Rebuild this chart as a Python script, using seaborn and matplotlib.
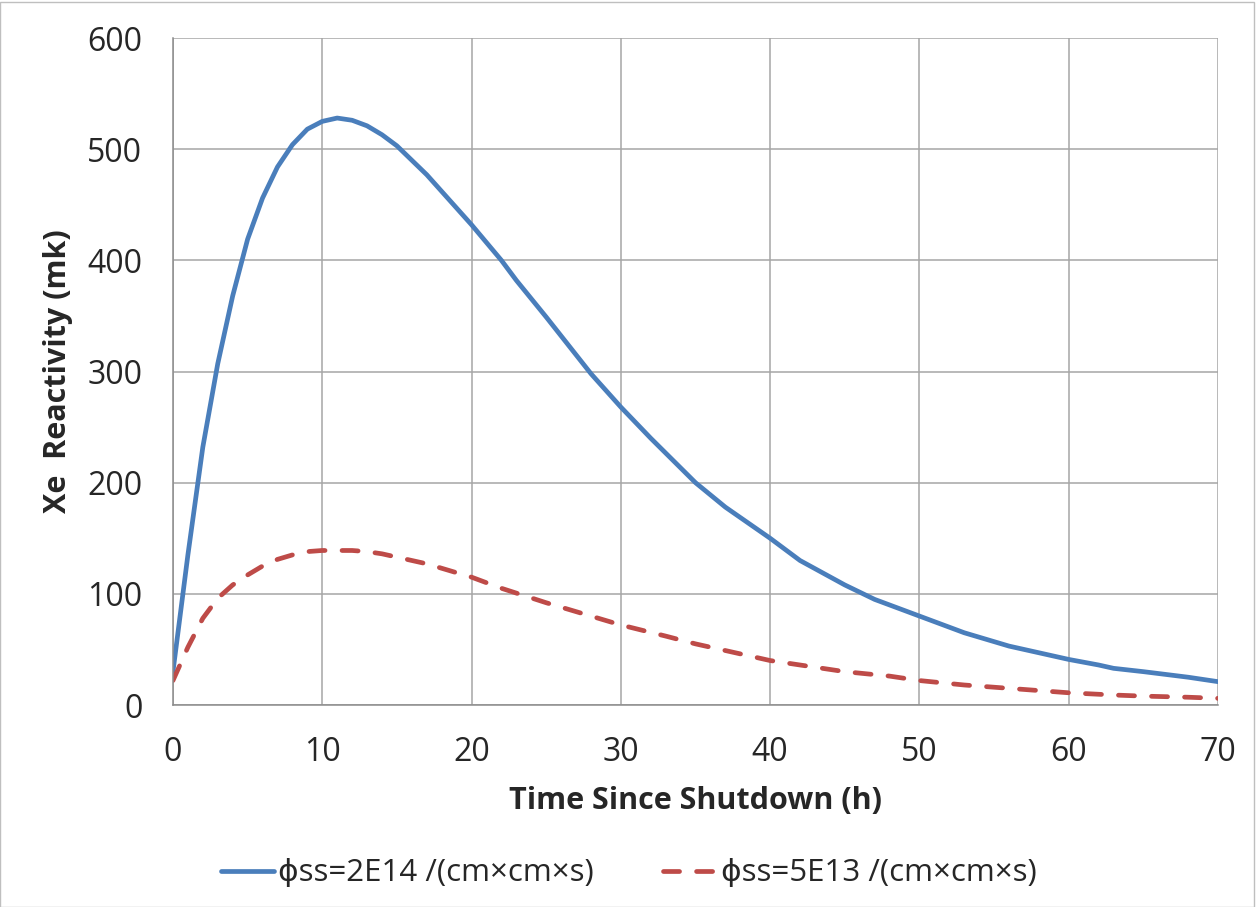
import matplotlib
matplotlib.use("Agg")
import matplotlib.pyplot as plt
import seaborn as sns
import pandas as pd

# hours since shutdown / xenon reactivity (mk)
t_hi = [0, 1, 2, 3, 4, 5, 6, 7, 8, 9, 10, 11, 12, 13, 14, 15, 17, 20, 22, 23,
        25, 28, 30, 32, 35, 37, 40, 42, 45, 47, 50, 53, 56, 60, 62, 63, 65, 68, 70]
xe_hi = [30, 135, 232, 307, 368, 419, 456, 484, 504, 518, 525, 528, 526, 521, 513,
         503, 477, 432, 400, 382, 349, 298, 268, 240, 200, 178, 150, 130, 108, 95,
         80, 65, 53, 41, 36, 33, 30, 25, 21]

t_lo = [0, 1, 2, 3, 4, 5, 6, 7, 8, 9, 10, 11, 12, 13, 14, 15, 17, 20, 22, 25, 28,
        30, 33, 35, 38, 40, 43, 45, 48, 50, 53, 55, 58, 60, 63, 65, 68, 70]
xe_lo = [22, 52, 78, 96, 108, 117, 125, 131, 135, 138, 139, 139, 139, 138, 136,
         133, 127, 115, 105, 92, 80, 72, 62, 55, 46, 40, 34, 30, 26, 22, 18, 16,
         13, 11, 9, 8, 7, 6]

labels = ["ϕss=2E14 /(cm×cm×s)", "ϕss=5E13 /(cm×cm×s)"]

sns.set_style("white")
plt.rcParams['font.family'] = ['Open Sans', 'DejaVu Sans']

fig = plt.figure(figsize=(12.57, 9.07), dpi=100)
ax = fig.add_axes([0.1376, 0.2227, 0.8314, 0.7354])

df_hi = pd.DataFrame({"t": t_hi, "xe": xe_hi})
df_lo = pd.DataFrame({"t": t_lo, "xe": xe_lo})

sns.lineplot(data=df_hi, x="t", y="xe", ax=ax, color="#4a7ebb", lw=3.4, label=labels[0])
sns.lineplot(data=df_lo, x="t", y="xe", ax=ax, color="#be4b48", lw=3.4,
             dashes=False, label=labels[1])
ax.lines[1].set_dashes([3.4, 3.6])
ax.lines[1].set_dash_capstyle("round")

ax.set_xlim(0, 70)
ax.set_ylim(0, 600)
ax.set_xticks(range(0, 71, 10))
ax.set_yticks(range(0, 601, 100))
ax.grid(True, color="#a6a6a6", lw=1.1)
ax.set_axisbelow(True)
for s in ["top", "right"]:
    ax.spines[s].set_visible(False)
for s in ["left", "bottom"]:
    ax.spines[s].set_color("#8c8c8c")
    ax.spines[s].set_linewidth(1.1)
ax.tick_params(axis="both", direction="out", length=7, width=1.1, color="#8c8c8c",
               labelsize=23, pad=15)

ax.set_xlabel("Time Since Shutdown (h)", fontsize=22, fontweight="bold")
ax.set_ylabel("Xe  Reactivity (mk)", fontsize=22, fontweight="bold")
ax.xaxis.set_label_coords(0.5, -0.121)
ax.yaxis.set_label_coords(-0.096, 0.5)

ax.legend(loc="center", bbox_to_anchor=(0.5, 0.037), bbox_transform=fig.transFigure,
          ncol=2, frameon=False, fontsize=22.5, handlelength=1.7, columnspacing=2.2,
          handletextpad=0.15)

fig.patches.append(plt.Rectangle((0, 0), 0.998, 0.998, transform=fig.transFigure,
                                 fill=False, edgecolor="#bfbfbf", lw=1))

fig.savefig("out.png", dpi=100)
